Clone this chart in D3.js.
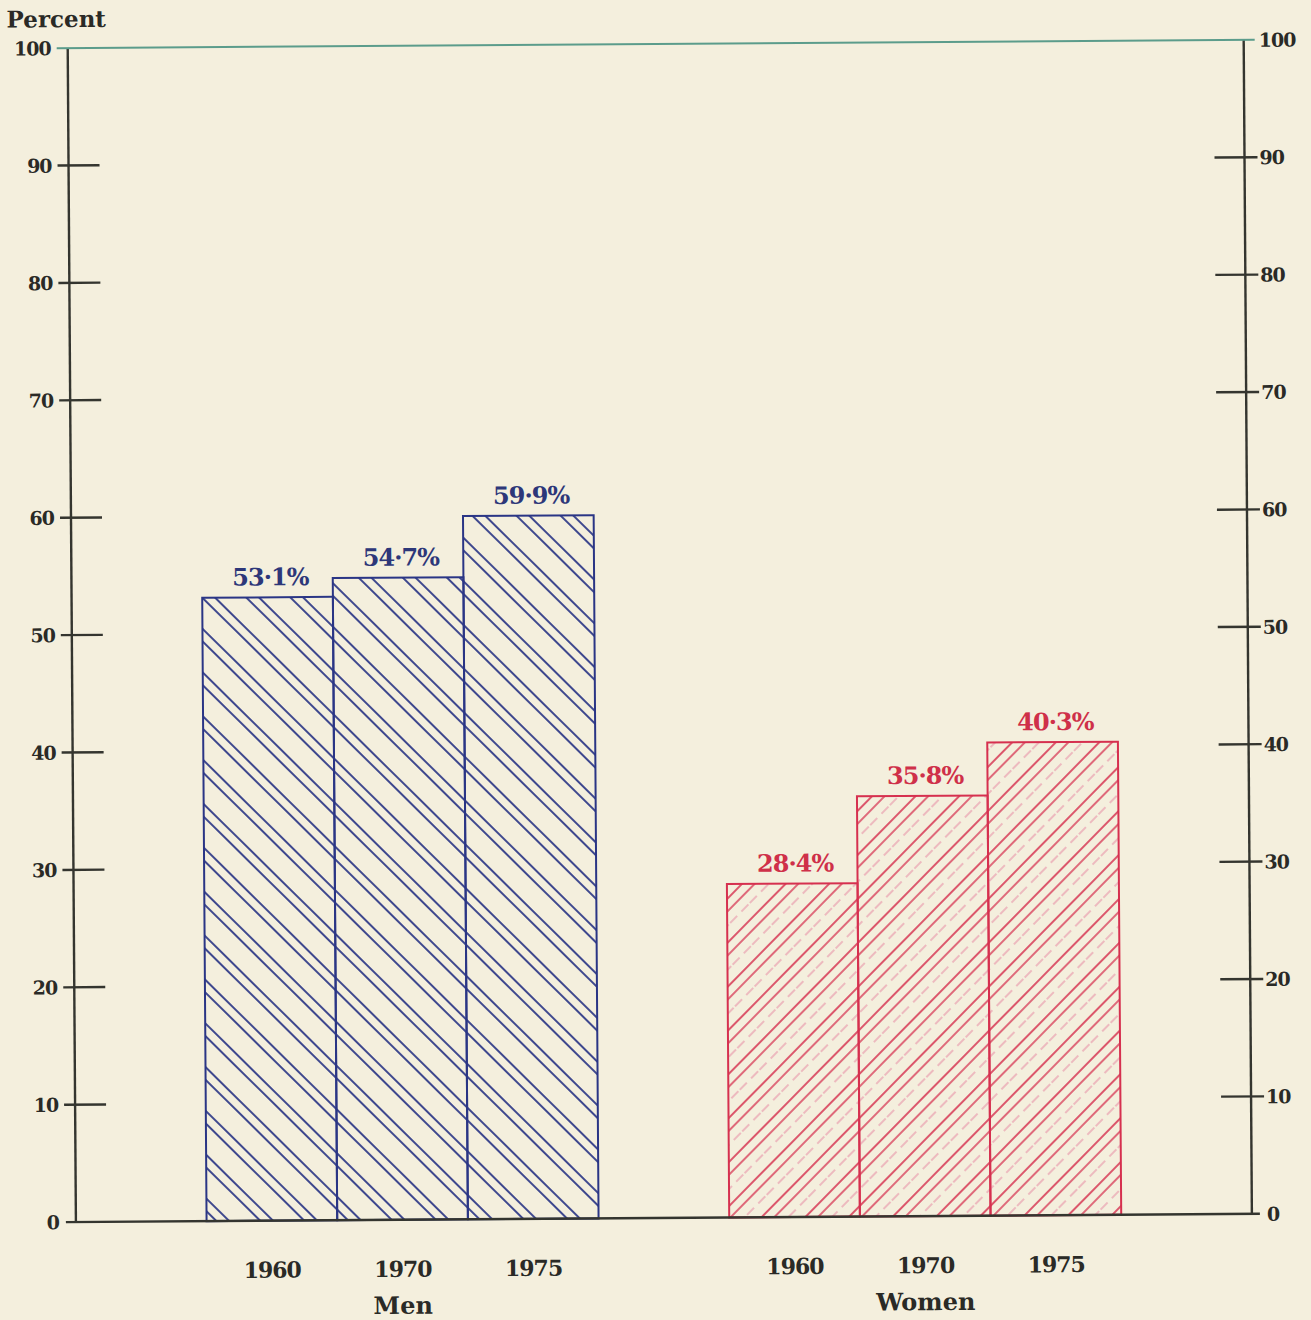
<!DOCTYPE html>
<html>
<head>
<meta charset="utf-8">
<script src="https://cdn.jsdelivr.net/npm/d3@7"></script>
<style>
  html, body { margin: 0; padding: 0; background: #f4efdd; }
  svg { display: block; }
  text { font-family: "DejaVu Serif", serif; font-weight: bold; }
</style>
</head>
<body>
<div id="chart"></div>
<script>
// ---- data ----
const groups = ["Men", "Women"];
const years = ["1960", "1970", "1975"];
const menValues = [53.1, 54.7, 59.9];
const womenValues = [28.4, 35.8, 40.3];
const yTicks = [0, 10, 20, 30, 40, 50, 60, 70, 80, 90, 100];
const yAxisTitle = "Percent";

// ---- layout ----
const W = 1311, H = 1320;
const leftX = 72, rightX = 1248;
const y0 = 1218, y100 = 44;

const colors = {
  bg: "#f4efdd",
  axis: "#34352f",
  top: "#5b9c8b",
  Men: "#2a3585",
  MenText: "#2d3779",
  Women: "#d6304f",
  WomenText: "#cf3049",
  WomenLight: "#e685a0"
};

const rows = [];
groups.forEach((g, gi) => {
  const vals = gi === 0 ? menValues : womenValues;
  years.forEach((yr, i) => rows.push({ group: g, year: yr, value: vals[i], key: g + "-" + yr }));
});

const slots = ["padL", ...rows.filter(r => r.group === "Men").map(r => r.key), "gap",
               ...rows.filter(r => r.group === "Women").map(r => r.key), "padR"];

const x = d3.scaleBand().domain(slots).range([leftX, rightX]).paddingInner(0).paddingOuter(0);
const y = d3.scaleLinear().domain([0, 100]).range([y0, y100]);

const svg = d3.select("#chart").append("svg").attr("width", W).attr("height", H);
svg.append("rect").attr("width", W).attr("height", H).attr("fill", colors.bg);

const defs = svg.append("defs");
// blue "\" hatch: pairs of lines
const pb = defs.append("pattern").attr("id", "hatchMen").attr("patternUnits", "userSpaceOnUse")
  .attr("width", 31).attr("height", 20).attr("patternTransform", "rotate(-45)");
pb.append("line").attr("x1", 2).attr("x2", 2).attr("y1", 0).attr("y2", 20)
  .attr("stroke", colors.Men).attr("stroke-width", 1.8);
pb.append("line").attr("x1", 11).attr("x2", 11).attr("y1", 0).attr("y2", 20)
  .attr("stroke", colors.Men).attr("stroke-width", 1.8);

// red "/" hatch: pairs of solid lines plus a light dashed line
const pr = defs.append("pattern").attr("id", "hatchWomen").attr("patternUnits", "userSpaceOnUse")
  .attr("width", 31).attr("height", 28).attr("patternTransform", "rotate(45)");
pr.append("line").attr("x1", 2).attr("x2", 2).attr("y1", 0).attr("y2", 28)
  .attr("stroke", colors.Women).attr("stroke-width", 1.6);
pr.append("line").attr("x1", 11).attr("x2", 11).attr("y1", 0).attr("y2", 28)
  .attr("stroke", colors.Women).attr("stroke-width", 1.4);
pr.append("line").attr("x1", 21).attr("x2", 21).attr("y1", 0).attr("y2", 28)
  .attr("stroke", colors.WomenLight).attr("stroke-width", 1).attr("stroke-dasharray", "10 6");

const g = svg.append("g").attr("transform", `rotate(-0.4 ${W / 2} ${H / 2})`);

// bars
const bars = g.append("g");
bars.selectAll("rect.bar").data(rows).join("rect")
  .attr("class", "bar")
  .attr("x", d => x(d.key))
  .attr("y", d => y(d.value))
  .attr("width", x.bandwidth())
  .attr("height", d => y(0) - y(d.value))
  .attr("fill", d => `url(#hatch${d.group})`)
  .attr("stroke", d => colors[d.group])
  .attr("stroke-width", 2);

// value labels
const fmt = v => d3.format(".1f")(v).replace(".", "\u00B7") + "%";
g.append("g").selectAll("text").data(rows).join("text")
  .attr("x", d => x(d.key) + x.bandwidth() / 2 + 3)
  .attr("y", d => y(d.value) - 12)
  .attr("text-anchor", "middle")
  .attr("font-size", 24)
  .attr("letter-spacing", -1)
  .attr("fill", d => colors[d.group + "Text"])
  .text(d => fmt(d.value));

// axes
const ax = g.append("g").attr("stroke", colors.axis).attr("stroke-width", 2.4).attr("fill", "none");
ax.append("line").attr("x1", leftX).attr("x2", leftX).attr("y1", y(100)).attr("y2", y(0));
ax.append("line").attr("x1", rightX).attr("x2", rightX).attr("y1", y(100)).attr("y2", y(0));
ax.append("line").attr("x1", leftX - 10).attr("x2", rightX + 8).attr("y1", y(0)).attr("y2", y(0));
g.append("line").attr("x1", leftX - 11).attr("x2", rightX + 11).attr("y1", y(100)).attr("y2", y(100))
  .attr("stroke", colors.top).attr("stroke-width", 2);

const mid = yTicks.filter(t => t > 0 && t < 100);
ax.selectAll("line.lt").data(mid).join("line").attr("class", "lt")
  .attr("x1", leftX - 11).attr("x2", leftX + 31).attr("y1", d => y(d)).attr("y2", d => y(d));
ax.selectAll("line.rt").data(mid).join("line").attr("class", "rt")
  .attr("x1", rightX - 30).attr("x2", rightX + 13).attr("y1", d => y(d)).attr("y2", d => y(d));

g.append("g").selectAll("text").data(yTicks).join("text")
  .attr("x", leftX - 17).attr("y", d => y(d) + 7)
  .attr("text-anchor", "end").attr("font-size", 19).attr("letter-spacing", -1).attr("fill", "#2a2a26")
  .text(d => d);
g.append("g").selectAll("text").data(yTicks).join("text")
  .attr("x", rightX + 15).attr("y", d => y(d) + 7)
  .attr("text-anchor", "start").attr("font-size", 19).attr("letter-spacing", -1).attr("fill", "#2a2a26")
  .text(d => d);

g.append("text").attr("x", 11).attr("y", 23).attr("font-size", 23).attr("fill", "#2a2a26")
  .text(yAxisTitle);

// x labels
g.append("g").selectAll("text").data(rows).join("text")
  .attr("x", d => x(d.key) + x.bandwidth() / 2)
  .attr("y", 1275)
  .attr("text-anchor", "middle").attr("font-size", 22).attr("letter-spacing", -1).attr("fill", "#2a2a26")
  .text(d => d.year);
g.append("g").selectAll("text").data(groups).join("text")
  .attr("x", gr => x(gr + "-" + years[1]) + x.bandwidth() / 2)
  .attr("y", 1312)
  .attr("text-anchor", "middle").attr("font-size", 24).attr("fill", "#2a2a26")
  .text(gr => gr);
</script>
</body>
</html>
